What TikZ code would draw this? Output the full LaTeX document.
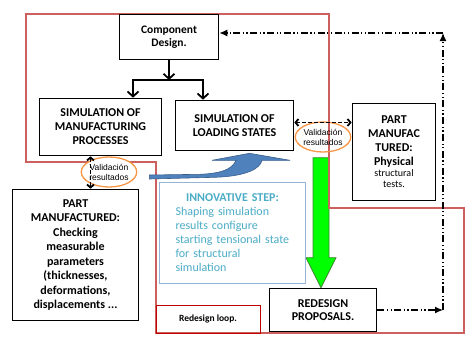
\documentclass[tikz,border=0pt]{standalone}
\usepackage{fontspec}
\setmainfont{Carlito}
\newfontfamily\valfont{Liberation Sans}
\usetikzlibrary{arrows.meta,calc,shapes.geometric,backgrounds}
\definecolor{loopRed}{HTML}{CD5F5F}
\definecolor{boxRed}{HTML}{C00000}
\definecolor{valOrange}{HTML}{F79646}
\definecolor{stepBlue}{HTML}{95B3D7}
\definecolor{stepText}{HTML}{4BACC6}
\definecolor{bandBlue}{HTML}{4F81BD}
\definecolor{bandLine}{HTML}{385D8A}
\definecolor{arrGreen}{HTML}{00FF00}
\definecolor{arrGreenLine}{HTML}{3F7F2F}
\newcommand{\regline}[1]{{\mdseries\fontsize{10}{11}\selectfont #1}}

\begin{document}
\begin{tikzpicture}[
  x=1pt, y=-1pt,
  font=\fontsize{12}{14}\selectfont\bfseries,
  block/.style={draw=black, line width=1.6pt, fill=white, align=center, inner sep=2pt},
  stepbox/.style={draw=stepBlue, line width=1.6pt, fill=white, minimum width=146pt,
                  minimum height=101pt, text width=114pt, align=left, text=stepText,
                  font=\fontsize{12}{14}\selectfont\mdseries},
  loopbox/.style={draw=boxRed, line width=0.8pt, minimum width=104pt, minimum height=28pt,
                  font=\fontsize{9.5}{11}\selectfont\bfseries},
  valid/.style={ellipse, draw=valOrange, line width=1.3pt, inner sep=0pt, align=center,
                minimum width=54pt, minimum height=30pt,
                font=\valfont\fontsize{8.5}{10}\selectfont},
  loopline/.style={draw=loopRed, line width=1.6pt},
  band/.style={fill=bandBlue, draw=bandLine, line width=0.6pt},
  garrow/.style={fill=arrGreen, draw=arrGreenLine, line width=0.8pt},
  blkline/.style={line width=1.8pt, line cap=rect},
  barrow/.style={-{Straight Barb[length=5pt,width=11pt]}, line width=1.8pt},
  valarrow/.style={{Straight Barb[length=3pt,width=7pt]}-{Straight Barb[length=3pt,width=7pt]},
                   dash pattern=on 4pt off 2pt, line width=1.8pt},
  dda/.style={-{Latex[length=8pt,width=7pt]}, line width=1.3pt,
              dash pattern=on 7pt off 2.5pt on 1.2pt off 2.5pt on 1.2pt off 2.5pt}
]
\useasboundingbox (0,0) rectangle (475,341);

% boxes
\node[block, minimum width=99pt, minimum height=45pt,
      font=\fontsize{11.5}{13}\selectfont\bfseries] (design) at (169,37) {Component\\Design.};
\node[block, minimum width=122pt, minimum height=57pt] (simman) at (100.5,127)
  {SIMULATION OF\\MANUFACTURING\\PROCESSES};
\node[block, minimum width=118pt, minimum height=50pt] (simload) at (234.5,125.5)
  {SIMULATION OF\\LOADING STATES};
\node[block, minimum width=83pt, minimum height=97pt] (partR) at (394,152)
  {PART\\MANUFAC\\TURED:\\Physical\\[-3pt]\regline{structural}\\[-3pt]\regline{tests.}};
\node[block, minimum width=126pt, minimum height=131pt,
      font=\fontsize{12}{14.5}\selectfont\bfseries] (partL) at (75.5,255)
  {PART\\MANUFACTURED:\\Checking\\measurable\\parameters\\(thicknesses,\\deformations,\\displacements ...};
\node[block, minimum width=107pt, minimum height=43pt,
      font=\fontsize{12}{13}\selectfont\bfseries] (redesign) at (323,310) {REDESIGN\\PROPOSALS.};
\node[stepbox] (innov) at (232.5,233)
  {\makebox[114pt]{\bfseries INNOVATIVE STEP:}\\Shaping simulation\\results configure\\
   starting tensional state\\for structural\\simulation};
\node[loopbox] (loop) at (208,319) {Redesign loop.};
\node[valid, fill=white] (val1) at (109,172) {Validación\\resultados};
\node[valid] (val2) at (323,137) {Validación\\resultados};

% design splits to both simulations
\coordinate (jl) at (133,80);
\coordinate (jr) at (203,80);
\draw[barrow] (design.south) -- (design.south |- jl);
\draw[blkline] (jl) -- (jr);
\draw[barrow] (jl) -- (jl |- simman.north);
\draw[barrow] (jr) -- (jr |- simload.north);

% validation links
\coordinate (vl) at ($(simman.south)+(-10,0)$);
\draw[valarrow] (vl) -- (vl |- partL.north);
\coordinate (vr) at ($(simload.east)+(0,-3)$);
\draw[valarrow] (vr) -- (vr -| partR.west);

% redesign feedback
\coordinate (ct) at (443,33);
\draw[dda] (redesign.east) -- (redesign.east -| ct);
\draw[dda] (redesign.east -| ct) -- (ct);
\draw[dda] (ct) -- (ct -| design.east);

\begin{scope}[on background layer]
  \coordinate (gs) at ($(val2.south)+(-2,5)$);
  \coordinate (gt) at (gs |- redesign.north);
  \filldraw[garrow] ($(gs)+(-8,0)$) -- ($(gs)+(8,0)$) -- ($(gt)+(8,-30)$) -- ($(gt)+(15,-30)$)
    -- (gt) -- ($(gt)+(-15,-30)$) -- ($(gt)+(-8,-30)$) -- cycle;
  % redesign loop outline
  \draw[loopline] (26,14) -- (329,14) -- (329,208) -- (464,208) -- (464,333)
    -- (156,333) -- (156,162) -- (26,162) -- cycle;
  % curved blue arrow
  \coordinate (bs) at ($(val1.east)+(12,5)$);
  \coordinate (bt) at ($(simload.south)+(15,2)$);
  \filldraw[band] ($(bs)+(0,-2)$) -- ($(bt)+(-49.5,21)$)
    .. controls ($(bt)+(-27.5,20)$) and ($(bt)+(-17.5,16)$) .. ($(bt)+(-13.5,7)$)
    -- ($(bt)+(-37.5,7)$) -- (bt) -- ($(bt)+(40.5,7)$) -- ($(bt)+(12.5,7)$)
    .. controls ($(bt)+(10.5,16)$) and ($(bt)+(-4.5,23)$) .. ($(bt)+(-34.5,24)$)
    -- ($(bs)+(0,2)$) -- cycle;
\end{scope}
\end{tikzpicture}
\end{document}
